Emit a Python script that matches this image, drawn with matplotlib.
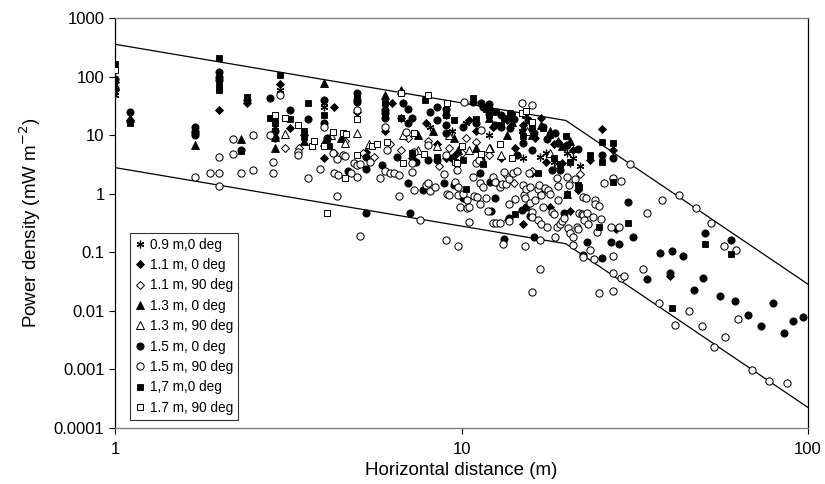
import matplotlib
matplotlib.use("Agg")
import matplotlib.pyplot as plt

plt.rcParams['font.family'] = ['Liberation Sans', 'DejaVu Sans']

# ---------------- data (distance m, power density mW m-2) ----------------
star_09m_0 = [(1.0, 48), (1.0, 55), (2.0, 95), (2.9, 14), (3.0, 60), (4.0, 30), (4.0, 35),
              (5.0, 45), (6.0, 25), (8.1, 14), (9.4, 12), (10.3, 16), (12.0, 10), (14.9, 12),
              (15.0, 4.0), (16.0, 16), (16.8, 4.3), (17.5, 5.0), (18.5, 3.5), (20.2, 4.9),
              (20.5, 3.3), (21.0, 4.0), (22.0, 3.0)]

dia_11m_0 = [(1.0, 80), (1.0, 60), (1.105, 18), (2.0, 27), (2.4, 35), (3.0, 75), (3.2, 13),
             (3.5, 10), (4.0, 4.1), (4.3, 30), (5.0, 25), (5.3, 5.2), (6.0, 12), (6.3, 35),
             (6.7, 20), (7.2, 4.0), (7.9, 16), (8.5, 7.0), (9.0, 22), (9.6, 4.5), (10.5, 18),
             (11.0, 12), (12.3, 14), (12.6, 1.6), (13.0, 4.0), (13.6, 0.35), (14.3, 6.0),
             (15.0, 15), (15.0, 0.3), (16.0, 2.3), (16.3, 9.0), (17.5, 3.5), (18.0, 0.6),
             (18.5, 7.0), (19.5, 3.3), (20.5, 0.5), (21.0, 5.5), (21.7, 1.15), (23.5, 3.8),
             (25.4, 12.8), (27.3, 5.6), (28.0, 0.25), (40.0, 0.04), (9.0, 4.0), (13.5, 18),
             (17.0, 20)]

odia_11m_90 = [(3.1, 6.1), (3.4, 6.0), (4.3, 5.0), (4.6, 8.0), (5.2, 5.0), (5.6, 4.2), (6.2, 7.0),
               (6.7, 5.5), (7.0, 9.0), (8.0, 8.0), (8.6, 3.0), (9.2, 6.0), (10.0, 5.0),
               (10.3, 9.0), (11.0, 7.5), (12.0, 4.5), (13.5, 2.0), (14.2, 1.5), (16.0, 2.4),
               (17.0, 1.0), (19.0, 3.0), (22.0, 2.2)]

tri_13m_0 = [(1.0, 70), (1.105, 20), (1.70, 6.8), (2.31, 8.6), (2.9, 9.4), (2.9, 6.1), (3.5, 7.8),
             (4.0, 77), (4.0, 7.6), (4.5, 9.0), (6.0, 49), (6.7, 60), (7.5, 10), (8.3, 12),
             (9.5, 9.0), (9.8, 5.6), (11.0, 6.0), (12.0, 20), (12.1, 6.0), (13.5, 10),
             (14.0, 16.5), (15.0, 13.3), (16.0, 10), (17.0, 15), (18.0, 12), (19.5, 6.5),
             (20.2, 1.0), (20.5, 8.0)]

otri_13m_90 = [(3.1, 10.4), (4.2, 10.0), (4.6, 7.3), (5.0, 11), (5.4, 7.0), (6.8, 10.0),
               (7.5, 5.5), (8.5, 6.5), (9.2, 10.0), (10.5, 5.5), (12.0, 6.0), (13.0, 4.5),
               (15.5, 12), (18.0, 5.0), (19.0, 8.0)]

circ_15m_0 = [(1.0, 90), (1.0, 65), (1.105, 25), (1.70, 14), (1.70, 12), (1.70, 11), (1.70, 10),
              (2.0, 120), (2.0, 100), (2.0, 88), (2.31, 5.5), (2.4, 40), (2.8, 43), (2.9, 12),
              (2.9, 9.0), (3.2, 27), (3.6, 19), (4.0, 40), (4.0, 16), (4.1, 9.0), (4.7, 2.4),
              (5.0, 52), (5.0, 40), (5.0, 37), (5.3, 0.47), (5.3, 4.2), (5.3, 2.6), (5.9, 3.1),
              (6.0, 27), (6.0, 24), (6.0, 20), (6.5, 4.2), (6.8, 35), (7.0, 28), (7.2, 20),
              (7.0, 16), (7.0, 1.5), (7.1, 0.46), (7.4, 3.5), (7.75, 1.17), (8.1, 25),
              (8.0, 3.8), (8.5, 30), (8.5, 18), (8.5, 3.8), (8.9, 1.5), (9.0, 28), (9.0, 15),
              (9.0, 11), (9.4, 4.0), (9.5, 1.4), (10.1, 14), (10.1, 0.85), (10.8, 37),
              (11.3, 2.27), (11.4, 36), (11.5, 30), (11.4, 3.8), (12.0, 34), (12.0, 23),
              (12.1, 27), (12.1, 1.6), (12.5, 15), (12.5, 0.85), (12.2, 0.5), (13.0, 14),
              (13.3, 0.17), (13.7, 0.39), (13.8, 13), (14.5, 4.5), (14.9, 0.53), (15.0, 7.4),
              (15.4, 0.6), (15.8, 0.42), (16.0, 5.6), (16.2, 11), (16.2, 0.18), (17.6, 8.6),
              (18.3, 2.55), (19.0, 7.4), (19.2, 2.55), (19.7, 0.47), (20.2, 6.8), (21.7, 5.9),
              (22.4, 0.09), (23.0, 0.15), (25.4, 4.6), (25.4, 0.08), (27.3, 4.1), (27.0, 0.15),
              (28.5, 0.14), (30.3, 0.72), (31.3, 0.18), (34.3, 0.035), (37.3, 0.097),
              (40.0, 0.045), (40.5, 0.105), (43.6, 0.088), (46.8, 0.023), (49.7, 0.037),
              (50.4, 0.21), (55.6, 0.018), (60.0, 0.16), (61.6, 0.015), (67.3, 0.0086),
              (73.1, 0.0056), (79.0, 0.0134), (85.0, 0.0042), (90.8, 0.0067), (97.0, 0.008),
              (13.0, 22), (14.2, 19), (15.6, 18), (17.2, 14), (18.6, 11), (11.0, 16)]

ocirc_15m_90 = [(1.70, 1.9), (1.88, 2.3), (2.0, 4.3), (2.0, 2.3), (2.0, 1.35), (2.19, 8.6),
                (2.19, 4.8), (2.31, 2.3), (2.5, 10), (2.5, 2.5), (2.8, 10), (2.85, 3.5),
                (2.85, 2.3), (3.0, 48), (3.37, 5.2), (3.37, 4.5), (3.6, 1.86), (3.9, 2.6),
                (4.0, 14), (4.25, 5.0), (4.3, 2.3), (4.37, 3.9), (4.4, 2.1), (4.37, 0.91),
                (4.55, 4.6), (4.62, 4.4), (4.8, 2.3), (4.9, 3.3), (5.0, 27), (5.0, 3.1),
                (5.0, 1.95), (5.1, 3.2), (5.1, 0.19), (5.45, 3.5), (5.8, 1.86), (6.0, 14),
                (6.0, 2.4), (6.1, 5.6), (6.2, 2.3), (6.4, 2.3), (6.6, 2.1), (6.6, 0.92),
                (6.9, 11.5), (7.2, 3.4), (7.2, 2.35), (7.3, 5.2), (7.3, 1.17), (7.6, 0.35),
                (7.9, 1.4), (8.0, 6.8), (8.0, 1.5), (8.1, 1.1), (8.4, 1.3), (8.9, 2.2),
                (9.0, 4.6), (9.0, 0.16), (9.1, 1.0), (9.2, 0.95), (9.6, 1.6), (9.7, 2.55),
                (9.8, 1.3), (9.8, 0.95), (9.8, 0.13), (9.9, 0.6), (10.1, 1.0), (10.2, 37),
                (10.4, 0.78), (10.4, 0.58), (10.5, 0.6), (10.5, 0.33), (10.8, 1.95),
                (10.9, 0.9), (11.0, 3.35), (11.1, 0.89), (11.2, 3.8), (11.3, 0.67), (11.3, 1.5),
                (11.4, 12.3), (11.5, 1.3), (11.8, 0.85), (11.9, 0.5), (12.3, 1.95), (12.3, 0.32),
                (12.5, 1.6), (12.6, 0.32), (12.9, 1.3), (12.9, 0.32), (13.1, 1.48), (13.2, 0.14),
                (13.3, 2.35), (13.4, 1.45), (13.7, 1.75), (13.7, 0.67), (13.7, 0.34),
                (14.1, 2.27), (14.3, 0.8), (14.5, 2.4), (14.9, 35), (15.0, 1.4), (15.1, 0.96),
                (15.2, 0.85), (15.2, 0.127), (15.4, 1.2), (15.7, 2.27), (15.8, 1.3), (15.8, 0.7),
                (16.0, 33), (16.0, 0.49), (16.0, 0.4), (16.0, 0.021), (16.3, 0.78), (16.6, 1.2),
                (16.6, 0.36), (16.7, 1.4), (16.8, 0.16), (16.8, 0.052), (17.0, 0.95),
                (17.0, 0.3), (17.2, 0.6), (17.4, 1.25), (17.6, 0.27), (17.8, 1.17), (18.0, 1.0),
                (18.3, 0.49), (18.5, 0.45), (18.6, 0.18), (18.9, 1.86), (18.9, 0.27), (19.0, 1.35),
                (19.0, 0.78), (19.3, 0.3), (19.5, 0.34), (19.8, 0.38), (20.2, 1.95), (20.3, 0.26),
                (20.4, 1.4), (20.6, 0.21), (21.0, 0.18), (21.0, 0.134), (21.3, 1.75),
                (21.6, 0.27), (21.7, 0.25), (21.8, 0.47), (22.2, 0.45), (22.4, 0.89),
                (22.4, 0.43), (22.4, 0.083), (22.6, 0.36), (22.9, 0.85), (23.1, 0.47),
                (23.2, 0.3), (23.5, 0.11), (23.9, 0.4), (24.2, 0.078), (24.3, 0.78), (24.3, 0.66),
                (24.6, 0.22), (24.9, 0.62), (25.0, 0.02), (25.3, 0.37), (25.8, 1.55), (27.0, 0.27),
                (27.3, 1.85), (27.3, 0.087), (27.3, 0.044), (27.3, 0.022), (28.5, 0.27),
                (28.9, 1.66), (28.9, 0.037), (29.5, 0.04), (30.6, 3.2), (33.3, 0.052),
                (34.3, 0.46), (37.2, 0.0136), (37.9, 0.78), (41.4, 0.0057), (42.5, 0.96),
                (45.2, 0.010), (47.4, 0.58), (49.4, 0.0055), (52.4, 0.32), (53.6, 0.0024),
                (57.2, 0.128), (57.5, 0.0036), (62.0, 0.11), (62.9, 0.0072), (69.0, 0.00097),
                (77.1, 0.00064), (86.7, 0.00058)]

sq_17m_0 = [(1.0, 165), (1.105, 16), (2.0, 205), (2.0, 70), (2.0, 60), (2.31, 5.3), (2.4, 45),
            (2.8, 20), (2.9, 17), (3.0, 105), (3.2, 19), (3.5, 12), (3.5, 9.3), (3.6, 35),
            (4.0, 22), (4.1, 8.5), (4.15, 6.5), (5.0, 42), (6.0, 35), (6.7, 20), (7.2, 5.0),
            (7.85, 40), (8.5, 4.2), (9.0, 22), (9.5, 18), (10.1, 3.8), (10.3, 1.2), (10.8, 43),
            (11.0, 19), (11.5, 3.2), (12.0, 22), (12.6, 25), (13.0, 15), (13.3, 20), (14.0, 22),
            (14.3, 0.45), (15.0, 9.5), (16.0, 13), (16.6, 2.3), (17.2, 13), (18.0, 10),
            (18.5, 4.0), (19.2, 3.2), (20.0, 9.7), (20.2, 1.0), (20.5, 3.5), (21.7, 1.4),
            (21.9, 1.3), (23.5, 4.6), (25.0, 0.27), (25.4, 7.6), (25.4, 3.5), (27.3, 7.3),
            (27.3, 1.6), (30.3, 0.32), (40.5, 0.011), (50.4, 0.14), (60.0, 0.095),
            (11.8, 28), (13.8, 24), (15.3, 22)]

osq_17m_90 = [(1.0, 130), (2.9, 22), (3.1, 20), (3.37, 15), (3.7, 6.5), (3.76, 8.0), (4.0, 6.5),
              (4.1, 0.46), (4.25, 11.5), (4.55, 10.9), (4.6, 1.86), (4.65, 10.4), (5.0, 19),
              (5.0, 4.6), (5.5, 6.6), (5.7, 7.0), (6.1, 7.6), (6.7, 52), (6.8, 3.3), (7.3, 11),
              (7.8, 4.8), (8.0, 49), (9.1, 35), (9.6, 3.5), (9.7, 3.35), (10.0, 6.5),
              (11.4, 4.8), (12.9, 7.1), (14.0, 4.1), (14.9, 24), (15.4, 26), (16.0, 16.7)]

upper_x = [1, 20, 100]
upper_y = [356, 17.8, 0.0285]
lower_x = [1, 20, 100]
lower_y = [2.79, 0.14, 0.000224]

xticks = [1, 10, 100]
xtick_labels = ['1', '10', '100']
yticks = [0.0001, 0.001, 0.01, 0.1, 1, 10, 100, 1000]
ytick_labels = ['0.0001', '0.001', '0.01', '0.1', '1', '10', '100', '1000']

# ---------------- figure ----------------
fig = plt.figure(figsize=(8.25, 4.84), dpi=100)
ax = fig.add_axes([115/825, 1 - 428/484, 693/825, 410/484])
ax.set_xscale('log')
ax.set_yscale('log')
ax.set_xlim(1, 100)
ax.set_ylim(0.0001, 1000)

ax.plot(upper_x, upper_y, color='black', lw=0.9, zorder=1)
ax.plot(lower_x, lower_y, color='black', lw=0.9, zorder=1)

series = [
    (star_09m_0, '0.9 m,0 deg', dict(marker=(6, 2, 0), ms=5.5, mfc='black', mec='black', mew=0.9)),
    (dia_11m_0, '1.1 m, 0 deg', dict(marker='D', ms=3.7, mfc='black', mec='black', mew=0.6)),
    (odia_11m_90, '1.1 m, 90 deg', dict(marker='D', ms=3.7, mfc='white', mec='black', mew=0.7)),
    (tri_13m_0, '1.3 m, 0 deg', dict(marker='^', ms=5.2, mfc='black', mec='black', mew=0.6)),
    (otri_13m_90, '1.3 m, 90 deg', dict(marker='^', ms=5.2, mfc='white', mec='black', mew=0.7)),
    (circ_15m_0, '1.5 m, 0 deg', dict(marker='o', ms=5.2, mfc='black', mec='black', mew=0.6)),
    (ocirc_15m_90, '1.5 m, 90 deg', dict(marker='o', ms=5.2, mfc='white', mec='black', mew=0.75)),
    (sq_17m_0, '1,7 m,0 deg', dict(marker='s', ms=4.7, mfc='black', mec='black', mew=0.6)),
    (osq_17m_90, '1.7 m, 90 deg', dict(marker='s', ms=4.7, mfc='white', mec='black', mew=0.7)),
]
for i, (pts, label, st) in enumerate(series):
    xs = [p[0] for p in pts]
    ys = [p[1] for p in pts]
    ax.plot(xs, ys, linestyle='none', label=label, zorder=2 + i, **st)

ax.set_xticks(xticks)
ax.set_xticklabels(xtick_labels)
ax.set_yticks(yticks)
ax.set_yticklabels(ytick_labels)
ax.minorticks_off()
ax.tick_params(axis='both', direction='out', length=4, width=0.8, labelsize=12, colors='black')
ax.tick_params(axis='x', pad=6)

for side in ['left', 'right']:
    ax.spines[side].set_color('black')
    ax.spines[side].set_linewidth(0.9)
for side in ['top', 'bottom']:
    ax.spines[side].set_color('#808080')
    ax.spines[side].set_linewidth(1.0)

ax.set_xlabel('Horizontal distance (m)', fontsize=13.5, labelpad=4)
ax.set_ylabel('Power density (mW m$^{-2}$)', fontsize=13.5, labelpad=8)

leg = ax.legend(loc='upper left', bbox_to_anchor=(0.0216, 0.476), borderaxespad=0,
                fontsize=9.8, frameon=True, fancybox=False, edgecolor='black',
                handlelength=0.8, handletextpad=0.35, labelspacing=0.47, borderpad=0.35,
                numpoints=1)
leg.get_frame().set_linewidth(0.8)

fig.savefig('out.png', dpi=100)
